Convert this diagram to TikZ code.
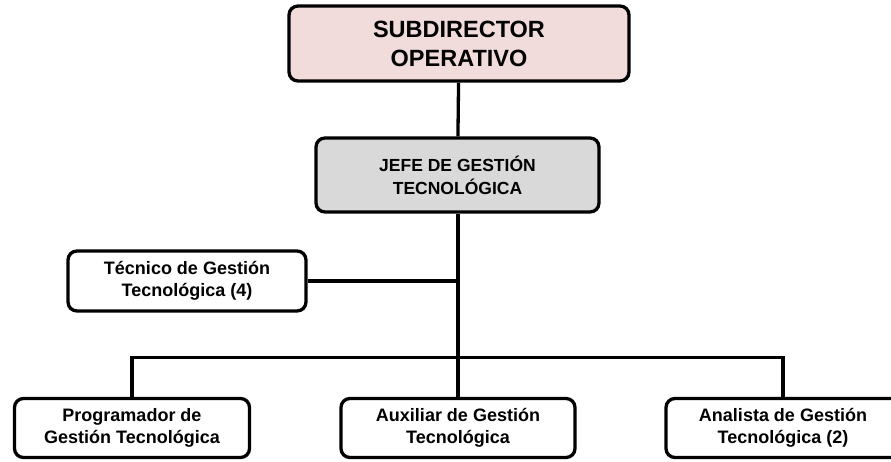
\documentclass[tikz,border=0pt]{standalone}
\usepackage{fontspec}
\setmainfont{Liberation Sans}
\definecolor{cargorosa}{HTML}{F2DCDB}
\definecolor{cargogris}{HTML}{D9D9D9}
\begin{document}
\begin{tikzpicture}[x=1pt,y=-1pt,
    cargo/.style={draw,line width=3.3pt,rounded corners=9pt,align=center,
      font=\fontsize{18}{22}\selectfont\bfseries,inner sep=0pt},
    linea/.style={line width=3.3pt}]
      \useasboundingbox (0,0) rectangle (891,461);
      \draw
        (459,43.5) node[cargo,fill=cargorosa,minimum width=340pt,minimum height=75pt,
          font=\fontsize{23.5}{29}\selectfont\bfseries] (sub){SUBDIRECTOR\\OPERATIVO}
        (457.5,175) node[cargo,fill=cargogris,minimum width=283pt,minimum height=74pt,
          font=\fontsize{17.5}{23}\selectfont\bfseries] (jefe){JEFE DE GESTIÓN\\TECNOLÓGICA}
        (187,281) node[cargo,minimum width=238pt,minimum height=60pt] (tec){Técnico de Gestión\\Tecnológica (4)}
        (132,428) node[cargo,minimum width=235pt,minimum height=59pt] (prog){Programador de\\Gestión Tecnológica}
        (458,428) node[cargo,minimum width=234pt,minimum height=59pt] (aux){Auxiliar de Gestión\\Tecnológica}
        (783,428) node[cargo,minimum width=234pt,minimum height=59pt] (ana){Analista de Gestión\\Tecnológica (2)};
      \coordinate (bus) at (458,357.5);
      \begin{scope}[linea]
        \draw (sub) to (jefe);
        \draw (jefe.south -| bus) to (aux.north);
        \draw (tec.east) to (tec.east -| bus);
        \draw (prog.north) |- (bus) -| (ana.north);
      \end{scope}
    \end{tikzpicture}
\end{document}
